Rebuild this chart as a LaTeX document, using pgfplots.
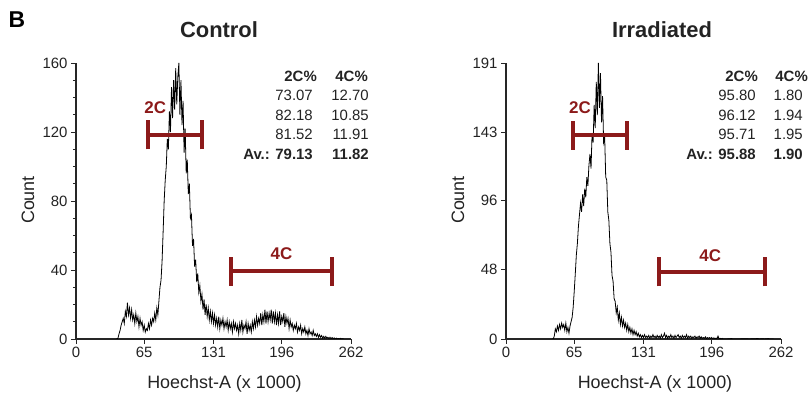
\documentclass[border=0pt]{standalone}
\usepackage{pgfplots}
\pgfplotsset{compat=1.18}
\usepackage{fontspec}
\setmainfont{Liberation Sans}
\definecolor{gatered}{RGB}{140,26,26}
\definecolor{txt}{RGB}{35,35,35}
\begin{document}
\begin{tikzpicture}
\useasboundingbox (0bp,0bp) rectangle (812bp,395bp);
\pgfplotsset{
 flowax/.style={
  scale only axis, width=275bp, height=276bp, anchor=south west,
  axis x line*=bottom, axis y line*=left,
  xmin=0, xmax=262, ymin=0,
  xtick={0,65,131,196,262}, minor x tick num=3, minor y tick num=3,
  tick align=outside,
  major tick length=5bp, minor tick length=3bp,
  axis line style={line width=1.3pt, color=black!85},
  tick style={line width=0.8pt, color=black!85},
  ticklabel style={font=\fontsize{15}{17}\selectfont, text=txt},
  /pgf/number format/assume math mode=true,
  /pgf/number format/fixed,
 },
 gate/.style={gatered, line width=4bp, forget plot},
 hist/.style={black, line width=0.8pt, line join=miter, forget plot},
}
% ---------------- Control ----------------
\begin{axis}[flowax, at={(76bp,56bp)}, ymax=160, ytick={0,40,80,120,160}]
\addplot[hist] coordinates {
(38,0)(39,0)(40,0.5)(41,3)(42,5)(43,8)(44,10)(45,12)(46,9)(47,16)(48,13)(49,21)(50,14)(51,18)(52,12)(53,17)(54,11)(55,14)(56,9)(57,15)(58,10)(59,13)(60,7)(61,12)(62,8)(63,10)(64,5)(65,8)(66,4)(67,6)(68,5)(69,9)(70,6)(71,11)(72,8)(73,12)(74,10)(75,15)(76,11)(77,18)(78,14)(79,22)(80,30)(81,34)(82,45)(83,62)(84,80)(85,92)(86,100)(87,116)(88,110)(89,132)(90,120)(91,146)(92,128)(93,150)(94,133)(95,157)(96,136)(97,152)(98,160)(99,130)(100,150)(101,124)(102,138)(103,108)(104,122)(105,96)(106,104)(107,84)(108,90)(109,70)(110,72)(111,54)(112,58)(113,42)(114,46)(115,33)(116,38)(117,27)(118,31)(119,22)(120,26)(121,17)(122,23)(123,14)(124,20)(125,13)(126,18)(127,11)(128,16)(129,10)(130,15)(131,9)(132,14)(133,8)(134,12)(135,7)(136,13)(137,6)(138,11)(139,8)(140,12)(141,6)(142,10)(143,7)(144,11)(145,5)(146,10)(147,6)(148,9)(149,4)(150,10)(151,6)(152,9)(153,5)(154,8)(155,3)(156,9)(157,5)(158,11)(159,4)(160,8)(161,6)(162,10)(163,3)(164,9)(165,5)(166,8)(167,4)(168,10)(169,6)(170,11)(171,7)(172,13)(173,8)(174,12)(175,9)(176,15)(177,8)(178,14)(179,10)(180,17)(181,9)(182,16)(183,10)(184,15)(185,11)(186,17)(187,9)(188,16)(189,10)(190,15)(191,8)(192,14)(193,9)(194,16)(195,8)(196,13)(197,10)(198,15)(199,7)(200,13)(201,9)(202,12)(203,6)(204,11)(205,7)(206,9)(207,5)(208,8)(209,6)(210,9)(211,4)(212,7)(213,5)(214,8)(215,3)(216,6)(217,4)(218,7)(219,3)(220,5)(221,2)(222,6)(223,3)(224,4)(225,2)(226,5)(227,2)(228,3)(229,1.5)(230,3)(231,1)(232,2.5)(233,1)(234,2)(235,0.5)(236,1.5)(237,0.5)(238,1.5)(239,0.5)(240,1)(241,0.3)(242,1)(243,0.2)(244,0.8)(245,0.2)(246,0.6)(247,0)(248,0.5)(249,0)(250,0.3)(251,0)(252,0.4)(253,0)(254,0.2)(255,0)
};
\addplot[gate] coordinates {(68.6,118.3)(120,118.3)};
\addplot[gate] coordinates {(68.6,109.9)(68.6,126.7)};
\addplot[gate] coordinates {(120,109.9)(120,126.7)};
\addplot[gate] coordinates {(147.6,39.4)(244,39.4)};
\addplot[gate] coordinates {(147.6,31)(147.6,47.8)};
\addplot[gate] coordinates {(244,31)(244,47.8)};
\node[gatered, font=\fontsize{17}{19}\selectfont\bfseries, anchor=west, inner sep=0] at (axis cs:65,134) {2C};
\node[gatered, font=\fontsize{17}{19}\selectfont\bfseries, inner sep=0] at (axis cs:195.8,49.5) {4C};
\end{axis}
% ---------------- Irradiated ----------------
\begin{axis}[flowax, at={(506bp,56bp)}, ymax=191, ytick={0,48,96,143,191}]
\addplot[hist] coordinates {
(44,0)(45,0)(46,2)(47,7)(48,5)(49,9)(50,6)(51,10)(52,7)(53,11)(54,8)(55,10)(56,6)(57,11)(58,5)(59,8)(60,4)(61,9)(62,12)(63,15)(64,22)(65,33)(66,45)(67,58)(68,66)(69,78)(70,86)(71,94)(72,88)(73,100)(74,92)(75,104)(76,98)(77,112)(78,106)(79,120)(80,128)(81,118)(82,142)(83,136)(84,162)(85,146)(86,178)(87,155)(88,191)(89,160)(90,184)(91,150)(92,168)(93,136)(94,140)(95,112)(96,110)(97,88)(98,82)(99,66)(100,60)(101,44)(102,40)(103,28)(104,26)(105,18)(106,22)(107,13)(108,18)(109,10)(110,15)(111,9)(112,13)(113,8)(114,11)(115,6)(116,10)(117,5)(118,8)(119,4)(120,7)(121,3)(122,6)(123,3)(124,5)(125,2)(126,4)(127,1.5)(128,3)(129,1)(130,2.5)(131,1)(132,3)(133,1)(134,2)(135,1)(136,2.5)(137,0.5)(138,2)(139,1)(140,3)(141,1)(142,2)(143,0.5)(144,2.5)(145,1)(146,2)(147,0.5)(148,3)(149,1)(150,2)(151,4)(152,1)(153,2.5)(154,0.5)(155,2)(156,1)(157,3)(158,1)(159,2)(160,0.5)(161,2.5)(162,1)(163,2)(164,3)(165,1)(166,2)(167,0.5)(168,2.5)(169,1)(170,2)(171,1)(172,3)(173,0.5)(174,2)(175,1)(176,2)(177,0.5)(178,1.5)(179,1)(180,2)(181,0.5)(182,1.5)(183,1)(184,2)(185,0.5)(186,1.5)(187,0.5)(188,1)(189,0.5)(190,1.5)(191,0.3)(192,1)(193,0.5)(194,1)(195,0.3)(196,1)(197,0.2)(198,0.8)(199,0.2)(200,0.6)(201,0.2)(202,2)(203,0)(204,0.5)(205,0)(206,0.4)(207,0)(210,0)(215,0.3)(216,0)(220,0)(230,0.2)(231,0)(240,0.3)(241,0)(245,0.2)(246,0)(250,0.3)(251,0)(255,0)
};
\addplot[gate] coordinates {(63.6,141)(115,141)};
\addplot[gate] coordinates {(63.6,131)(63.6,151)};
\addplot[gate] coordinates {(115,131)(115,151)};
\addplot[gate] coordinates {(146,46.4)(247,46.4)};
\addplot[gate] coordinates {(146,36.4)(146,56.4)};
\addplot[gate] coordinates {(247,36.4)(247,56.4)};
\node[gatered, font=\fontsize{17}{19}\selectfont\bfseries, anchor=west, inner sep=0] at (axis cs:60,160) {2C};
\node[gatered, font=\fontsize{17}{19}\selectfont\bfseries, inner sep=0] at (axis cs:194.5,58) {4C};
\end{axis}
% ---------------- texts ----------------
\begin{scope}[x=1bp,y=1bp]
\node[font=\fontsize{23}{26}\selectfont\bfseries, text=black] at (17,375) {B};
\node[font=\fontsize{22}{26}\selectfont\bfseries, text=txt] at (219,365) {Control};
\node[font=\fontsize{22}{26}\selectfont\bfseries, text=txt] at (662,365) {Irradiated};
\node[font=\fontsize{18}{20}\selectfont, text=txt, rotate=90] at (28,195) {Count};
\node[font=\fontsize{18}{20}\selectfont, text=txt, rotate=90] at (458,195) {Count};
\node[font=\fontsize{18}{20}\selectfont, text=txt] at (224.5,11) {Hoechst-A (x 1000)};
\node[font=\fontsize{18}{20}\selectfont, text=txt] at (655,11) {Hoechst-A (x 1000)};
\end{scope}
% tables
\begin{scope}[x=1bp,y=1bp,every node/.style={inner sep=0, anchor=base east, text=txt, font=\fontsize{15}{17}\selectfont}]
\node[font=\fontsize{15}{17}\selectfont\bfseries] at (317,313.5) {2C\%};
\node[font=\fontsize{15}{17}\selectfont\bfseries] at (368,313.5) {4C\%};
\node at (313,294.5) {73.07}; \node at (369,294.5) {12.70};
\node at (313,274.5) {82.18}; \node at (369,274.5) {10.85};
\node at (313,255.5) {81.52}; \node at (369,255.5) {11.91};
\node[font=\fontsize{15}{17}\selectfont\bfseries] at (313,235.5) {Av.: 79.13};
\node[font=\fontsize{15}{17}\selectfont\bfseries] at (369,235.5) {11.82};
\node[font=\fontsize{15}{17}\selectfont\bfseries] at (758,313.5) {2C\%};
\node[font=\fontsize{15}{17}\selectfont\bfseries] at (808,313.5) {4C\%};
\node at (756,294.5) {95.80}; \node at (803,294.5) {1.80};
\node at (756,274.5) {96.12}; \node at (803,274.5) {1.94};
\node at (756,255.5) {95.71}; \node at (803,255.5) {1.95};
\node[font=\fontsize{15}{17}\selectfont\bfseries] at (756,235.5) {Av.: 95.88};
\node[font=\fontsize{15}{17}\selectfont\bfseries] at (803,235.5) {1.90};
\end{scope}
\end{tikzpicture}
\end{document}
